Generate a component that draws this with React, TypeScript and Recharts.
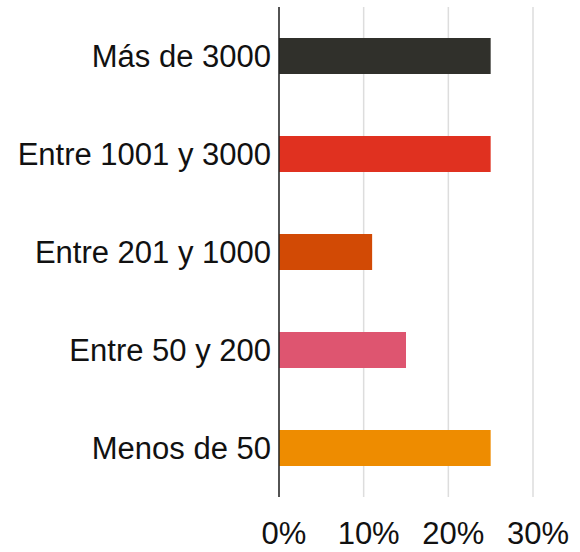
import { BarChart, Bar, XAxis, YAxis, CartesianGrid, Cell } from "recharts";

const categories = ["Más de 3000", "Entre 1001 y 3000", "Entre 201 y 1000", "Entre 50 y 200", "Menos de 50"];
const shares = [25, 25, 11, 15, 25];
const barColors = ["#30302b", "#e03120", "#d24a05", "#de5570", "#ee8c00"];
const xTicks = [0, 10, 20, 30];

const data = categories.map((name, i) => ({ name, value: shares[i] }));

const font = '"Liberation Sans", Arial, Helvetica, sans-serif';

export default function App() {
  return (
    <div style={{ position: "absolute", left: 0, top: 0 }}>
      <BarChart
        width={580}
        height={552}
        data={data}
        layout="vertical"
        margin={{ top: 7, right: 47, bottom: 0, left: 0 }}
        barSize={36}
      >
        <CartesianGrid vertical horizontal={false} stroke="#dddddd" strokeWidth={1.5} />
        <XAxis
          type="number"
          domain={[0, 30]}
          ticks={xTicks}
          tickFormatter={(v: number) => `${v}%`}
          axisLine={false}
          tickLine={false}
          tickMargin={19}
          height={55}
          tick={{ fill: "#111", fontSize: 31, fontFamily: font, dx: 5 }}
        />
        <YAxis
          type="category"
          dataKey="name"
          width={279}
          axisLine={{ stroke: "#222", strokeWidth: 1.5 }}
          tickLine={false}
          interval={0}
          tick={{ fill: "#111", fontSize: 31, fontFamily: font }}
        />
        <Bar dataKey="value" isAnimationActive={false}>
          {data.map((d, i) => (
            <Cell key={d.name} fill={barColors[i]} />
          ))}
        </Bar>
      </BarChart>
    </div>
  );
}
